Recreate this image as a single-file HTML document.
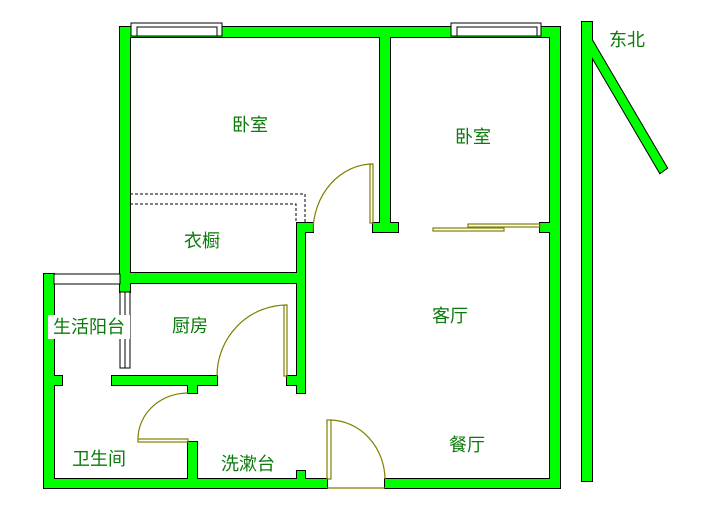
<!DOCTYPE html>
<html><head><meta charset="utf-8"><style>
html,body{margin:0;padding:0;background:#fff;width:714px;height:519px;overflow:hidden}
text{font-family:"Liberation Sans","Noto Sans CJK SC",sans-serif;font-size:18px;fill:#0a7a0a;text-anchor:middle;dominant-baseline:central}
</style></head><body>
<svg width="714" height="519" viewBox="0 0 714 519" xmlns="http://www.w3.org/2000/svg">
<defs>
<g id="walls">
<rect x="120" y="27" width="440" height="10"/>
<rect x="120" y="27" width="10" height="265"/>
<rect x="550" y="27" width="10" height="461"/>
<rect x="380" y="37" width="10" height="190"/>
<rect x="373" y="223" width="25" height="9"/>
<rect x="540" y="223" width="10" height="9"/>
<rect x="297" y="223" width="16" height="9"/>
<rect x="297" y="223" width="8" height="170"/>
<rect x="120" y="273" width="185" height="10"/>
<rect x="44" y="274" width="10" height="214"/>
<rect x="53" y="376" width="9" height="9"/>
<rect x="112" y="376" width="105" height="9"/>
<rect x="188" y="384" width="9" height="9"/>
<rect x="287" y="376" width="12" height="9"/>
<rect x="188" y="442" width="9" height="46"/>
<rect x="44" y="479" width="283" height="9"/>
<rect x="385" y="479" width="175" height="9"/>
<rect x="297" y="471" width="8" height="9"/>
<rect x="582" y="22" width="10" height="459"/>
<polygon points="582,23 667,168 660,173 592,57"/>
</g>
</defs>
<use href="#walls" fill="#00ff00" stroke="#000" stroke-width="2"/>
<use href="#walls" fill="#00ff00"/>
<!-- windows -->
<g fill="#fff" stroke="#000" stroke-width="1">
<rect x="131" y="23" width="91" height="13"/>
<rect x="137" y="27" width="80" height="9"/>
<rect x="451" y="23" width="90" height="13"/>
<rect x="457" y="27" width="80" height="9"/>
<rect x="54" y="274" width="66" height="10"/>
<rect x="120" y="292" width="10" height="76"/>
<line x1="125" y1="292" x2="125" y2="368"/>
</g>
<rect x="48" y="315" width="82" height="24" fill="#fff"/>
<g fill="none" stroke="#000" stroke-dasharray="3,2" stroke-width="1">
<path d="M130 194 H305 V223"/>
<path d="M130 204 H296 V223"/>
</g>
<g fill="none" stroke="#808000" stroke-width="1.2">
<rect x="370" y="164" width="3" height="59"/>
<path d="M313 232 A60 68 0 0 1 373 164"/>
<rect x="284" y="305" width="3" height="71"/>
<path d="M217 376 A70 71 0 0 1 287 305"/>
<rect x="138" y="439" width="50" height="3"/>
<path d="M138 439 A50 46 0 0 1 188 393"/>
<rect x="327" y="420" width="4" height="59"/>
<path d="M331 420 A56 60 0 0 1 385 479"/>
<line x1="327" y1="488" x2="385" y2="488"/>
<rect x="433" y="228" width="71" height="3"/>
<rect x="468" y="224" width="72" height="3"/>
</g>
<text x="250" y="125">卧室</text>
<text x="473" y="137">卧室</text>
<text x="202" y="241">衣橱</text>
<text x="89" y="327">生活阳台</text>
<text x="190" y="326">厨房</text>
<text x="450" y="316">客厅</text>
<text x="467" y="445">餐厅</text>
<text x="99" y="459">卫生间</text>
<text x="248" y="464">洗漱台</text>
<text x="627" y="40">东北</text>
</svg>
</body></html>
